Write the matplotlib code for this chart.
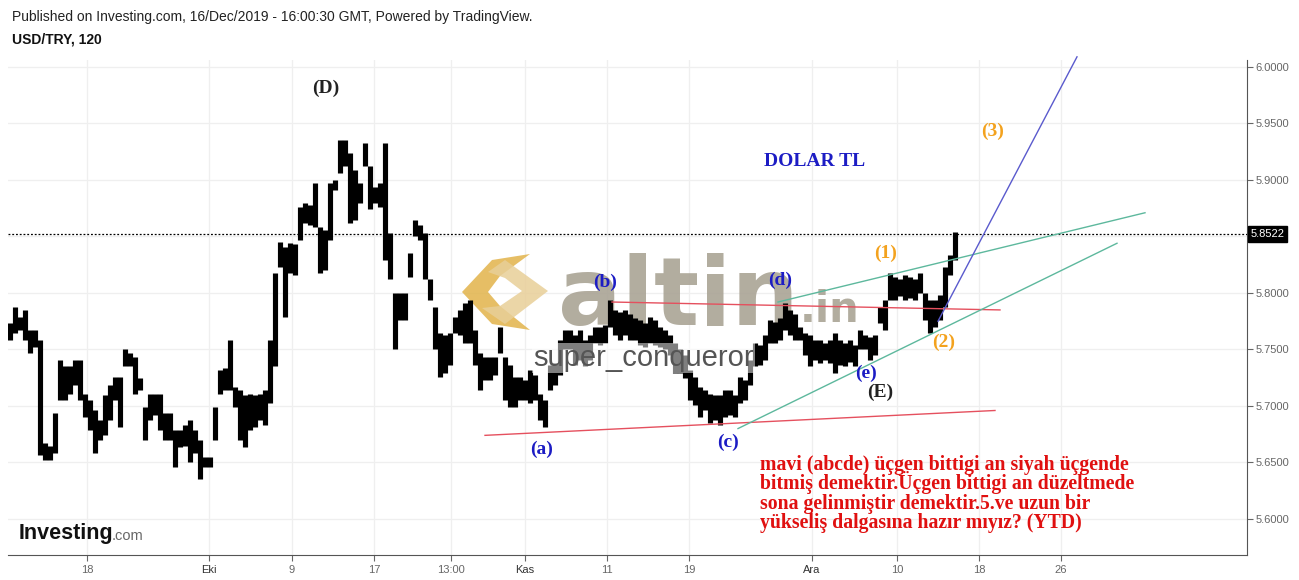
import matplotlib.pyplot as plt
from matplotlib.patches import Polygon

W, H = 1299, 580

# USD/TRY 120 dk - her eleman birkac mumun tepe / dip degeri
high = [5.773, 5.788, 5.779, 5.785, 5.767, 5.767, 5.758, 5.667, 5.665, 5.694,
        5.741, 5.735, 5.735, 5.741, 5.741, 5.711, 5.705, 5.696, 5.688, 5.710,
        5.719, 5.726, 5.726, 5.750, 5.747, 5.743, 5.725, 5.699, 5.711, 5.711,
        5.711, 5.694, 5.694, 5.679, 5.679, 5.683, 5.688, 5.679, 5.670, 5.655,
        5.655, 5.699, 5.732, 5.734, 5.758, 5.717, 5.714, 5.710, 5.711, 5.710,
        5.711, 5.714, 5.758, 5.818, 5.845, 5.841, 5.844, 5.843, 5.876, 5.880,
        5.878, 5.897, 5.858, 5.856, 5.897, 5.900, 5.935, 5.935, 5.924, 5.909,
        5.897, 5.933, 5.912, 5.894, 5.897, 5.933, 5.853, 5.800, 5.800, 5.800,
        5.835, 5.865, 5.860, 5.853, 5.812, 5.788, 5.765, 5.763, 5.765, 5.779,
        5.785, 5.791, 5.794, 5.767, 5.747, 5.743, 5.743, 5.743, 5.770, 5.743,
        5.736, 5.726, 5.726, 5.723, 5.732, 5.727, 5.711, 5.705, 5.736, 5.738,
        5.758, 5.767, 5.767, 5.763, 5.767, 5.758, 5.763, 5.770, 5.770, 5.772,
        5.794, 5.785, 5.783, 5.785, 5.781, 5.778, 5.776, 5.773, 5.779, 5.776,
        5.770, 5.767, 5.763, 5.756, 5.750, 5.745, 5.732, 5.726, 5.717, 5.714,
        5.711, 5.710, 5.710, 5.714, 5.714, 5.710, 5.726, 5.723, 5.741, 5.756,
        5.754, 5.763, 5.776, 5.774, 5.778, 5.791, 5.785, 5.781, 5.770, 5.765,
        5.763, 5.758, 5.758, 5.756, 5.758, 5.765, 5.758, 5.756, 5.758, 5.754,
        5.767, 5.763, 5.761, 5.763, 5.788, 5.794, 5.818, 5.814, 5.812, 5.816,
        5.814, 5.812, 5.818, 5.800, 5.794, 5.794, 5.798, 5.823, 5.834, 5.854]
low = [5.758, 5.765, 5.767, 5.758, 5.747, 5.752, 5.657, 5.652, 5.652, 5.658,
       5.705, 5.705, 5.711, 5.719, 5.705, 5.690, 5.679, 5.658, 5.670, 5.674,
       5.688, 5.705, 5.681, 5.735, 5.735, 5.711, 5.714, 5.670, 5.688, 5.692,
       5.679, 5.670, 5.670, 5.646, 5.664, 5.665, 5.650, 5.658, 5.635, 5.646,
       5.646, 5.670, 5.711, 5.714, 5.714, 5.699, 5.670, 5.664, 5.679, 5.681,
       5.688, 5.683, 5.703, 5.735, 5.823, 5.779, 5.818, 5.816, 5.847, 5.862,
       5.860, 5.858, 5.818, 5.820, 5.847, 5.891, 5.906, 5.912, 5.862, 5.865,
       5.880, 5.912, 5.874, 5.880, 5.876, 5.829, 5.812, 5.750, 5.776, 5.776,
       5.814, 5.850, 5.847, 5.812, 5.794, 5.750, 5.726, 5.729, 5.736, 5.765,
       5.763, 5.756, 5.756, 5.736, 5.714, 5.723, 5.723, 5.727, 5.747, 5.705,
       5.699, 5.699, 5.705, 5.705, 5.703, 5.705, 5.688, 5.681, 5.714, 5.719,
       5.727, 5.750, 5.750, 5.736, 5.741, 5.735, 5.741, 5.756, 5.754, 5.756,
       5.770, 5.763, 5.758, 5.763, 5.758, 5.758, 5.754, 5.752, 5.756, 5.754,
       5.752, 5.750, 5.745, 5.729, 5.729, 5.725, 5.705, 5.701, 5.690, 5.696,
       5.685, 5.688, 5.683, 5.690, 5.692, 5.690, 5.703, 5.705, 5.719, 5.735,
       5.736, 5.741, 5.756, 5.756, 5.758, 5.767, 5.763, 5.758, 5.758, 5.745,
       5.735, 5.741, 5.738, 5.741, 5.738, 5.729, 5.736, 5.735, 5.739, 5.735,
       5.750, 5.750, 5.741, 5.745, 5.773, 5.767, 5.794, 5.794, 5.797, 5.794,
       5.796, 5.794, 5.800, 5.776, 5.765, 5.770, 5.776, 5.788, 5.816, 5.829]
last_price = 5.8522

xtick_pos = [15.4, 39.8, 56.4, 72.8, 88.2, 103, 119.4, 135.8, 160.4, 177.4, 193.8, 210.2]
xtick_lab = ['18', 'Eki', '9', '17', '13:00', 'Kas', '11', '19', 'Ara', '10', '18', '26']
ytick_val = [5.60, 5.65, 5.70, 5.75, 5.80, 5.85, 5.90, 5.95, 6.00]

# trend cizgileri: (x0, x1), (y0, y1)
red_low = ((95, 197), (5.674, 5.696))
red_up = ((120.4, 198), (5.792, 5.785))
green_up = ((153.6, 227), (5.792, 5.871))
green_low = ((145.6, 221.4), (5.680, 5.844))
blue_up = ((185.6, 213.4), (5.775, 6.009))

# dalga etiketleri
wave_lab = ['(D)', '(E)', '(a)', '(b)', '(c)', '(d)', '(e)', '(1)', '(2)', '(3)']
wave_x = [63.2, 174, 106.4, 119, 143.6, 154, 171.2, 175.2, 186.8, 196.6]
wave_y = [5.981, 5.712, 5.662, 5.809, 5.668, 5.811, 5.729, 5.835, 5.756, 5.943]
wave_col = ['#222222', '#222222', '#1c1cc4', '#1c1cc4', '#1c1cc4', '#1c1cc4', '#1c1cc4',
            '#f3a21e', '#f3a21e', '#f3a21e']

note_lines = ["mavi (abcde) üçgen bittigi an siyah üçgende",
              "bitmiş demektir.Üçgen bittigi an düzeltmede",
              "sona gelinmiştir demektir.5.ve uzun bir",
              "yükseliş dalgasına hazır mıyız? (YTD)"]
note_y = [5.6434, 5.6261, 5.6089, 5.5916]


def fx(px):
    return px / W


def fy(py):
    return 1 - py / H


fig = plt.figure(figsize=(W / 100, H / 100), dpi=100)
ax = fig.add_axes([fx(8), fy(555), fx(1247) - fx(8), fy(60) - fy(555)])

ax.set_xlim(-0.4, 247.4)
ax.set_ylim(5.5681, 6.0062)

ax.grid(True, color='#efefef', lw=0.9, zorder=0)
ax.set_axisbelow(True)

# watermark
logo_dark = [(462, 292), (492, 260), (530, 254), (500, 276), (488, 292), (500, 306), (530, 330), (492, 324)]
logo_light = [(505, 260), (548, 291), (505, 324), (482, 308), (500, 306), (522, 291), (505, 278), (488, 272)]
ax.add_patch(Polygon([(fx(a), fy(b)) for a, b in logo_dark], closed=True, transform=fig.transFigure,
                     facecolor='#e2b34a', edgecolor='none', alpha=0.85, zorder=1))
ax.add_patch(Polygon([(fx(a), fy(b)) for a, b in logo_light], closed=True, transform=fig.transFigure,
                     facecolor='#e8cf98', edgecolor='none', alpha=0.85, zorder=1))
ax.text(fx(558), fy(325), 'altin', transform=fig.transFigure, fontsize=68, fontweight='bold',
        family='DejaVu Sans', color='#aaa495', alpha=0.9, va='baseline', ha='left', zorder=1)
ax.text(fx(800), fy(322), '.in', transform=fig.transFigure, fontsize=30, fontweight='bold',
        family='DejaVu Sans', color='#aaa495', alpha=0.9, va='baseline', ha='left', zorder=1)

# mumlar
xs = list(range(len(high)))
ax.vlines(xs, low, high, colors='black', linewidth=3.7, zorder=2)

ax.text(fx(533), fy(358), 'super_conqueror', transform=fig.transFigure, fontsize=21,
        family='Liberation Sans', color='#555555', va='center', ha='left', zorder=3,
        bbox=dict(boxstyle='square,pad=0.05', facecolor='white', edgecolor='none', alpha=0.5))

ax.axhline(last_price, color='black', lw=0.9, ls=(0, (1.5, 1.5)), zorder=4)

ax.plot(*red_low, color='#e5505e', lw=1.0, zorder=4)
ax.plot(*red_up, color='#e5505e', lw=1.0, zorder=4)
ax.plot(*green_up, color='#5db89d', lw=1.0, zorder=4)
ax.plot(*green_low, color='#5db89d', lw=1.0, zorder=4)
ax.plot(*blue_up, color='#5a5acd', lw=1.0, zorder=4, clip_on=False)

for lab, x, y, c in zip(wave_lab, wave_x, wave_y, wave_col):
    ax.text(x, y, lab, color=c, fontsize=14, fontweight='bold', family='Liberation Serif',
            ha='center', va='center', zorder=5)

ax.text(161, 5.916, 'DOLAR TL', color='#1c1cc4', fontsize=14, fontweight='bold',
        family='Liberation Serif', ha='center', va='center', zorder=5)
for line, y in zip(note_lines, note_y):
    ax.text(150, y, line, color='#e01010', fontsize=14.2, fontweight='bold',
            family='Liberation Serif', ha='left', va='baseline', zorder=5)

# eksenler
for s in ['left', 'top']:
    ax.spines[s].set_visible(False)
for s in ['right', 'bottom']:
    ax.spines[s].set_color('#555555')
ax.yaxis.tick_right()
ax.set_yticks(ytick_val)
# 5.8500 etiketi son fiyat kutusunun altinda kaliyor
ax.set_yticklabels(['' if abs(v - 5.85) < 1e-9 else '{:.4f}'.format(v) for v in ytick_val])
ax.set_xticks(xtick_pos)
ax.set_xticklabels(xtick_lab)
ax.tick_params(axis='both', labelsize=8, colors='#666666', length=4, width=0.8)
ax.tick_params(axis='y', pad=2)
ax.tick_params(axis='x', pad=3)
for t in ax.get_yticklabels() + ax.get_xticklabels():
    t.set_family('Liberation Sans')
for t in ax.get_xticklabels():
    if t.get_text() in ('Eki', 'Kas', 'Ara'):
        t.set_color('#333333')

ax.text(1.003, last_price, '{:.4f}'.format(last_price), transform=ax.get_yaxis_transform(),
        color='white', fontsize=8, family='Liberation Sans', va='center', ha='left', zorder=6,
        bbox=dict(boxstyle='square,pad=0.25', facecolor='black', edgecolor='black'), clip_on=False)

fig.text(fx(12), fy(17), 'Published on Investing.com, 16/Dec/2019 - 16:00:30 GMT, Powered by TradingView.',
         fontsize=10, family='Liberation Sans', color='#222222', va='center', ha='left')
fig.text(fx(12), fy(40), 'USD/TRY, 120', fontsize=10, family='Liberation Sans', fontweight='bold',
         color='#111111', va='center', ha='left')
fig.text(fx(19), fy(533), 'Investing', fontsize=15.5, family='Liberation Sans', fontweight='bold',
         color='#111111', va='center', ha='left')
fig.text(fx(112), fy(536), '.com', fontsize=10.5, family='Liberation Sans', color='#666666',
         va='center', ha='left')

fig.savefig('out.png', dpi=100)
